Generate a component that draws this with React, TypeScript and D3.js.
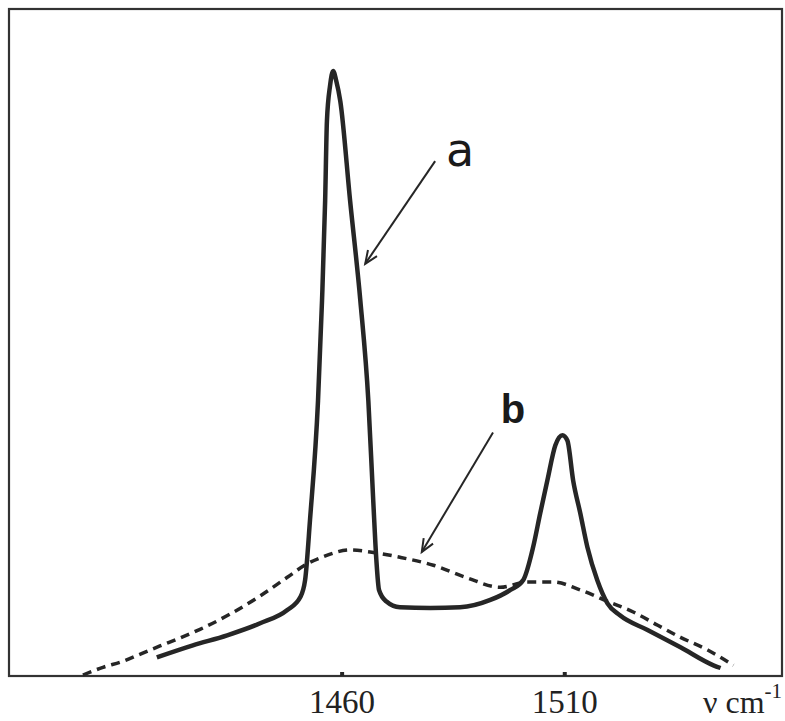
import React, { useEffect, useRef } from "react";
import * as d3 from "d3";

// Curve a (solid): wavenumber (cm-1) and intensity (arb. units, 0-100)
const aNu = [1418.5, 1426.6, 1434.3, 1441.7, 1447.8, 1450.7, 1451.8, 1452.9, 1454.7, 1455.6, 1456.3, 1456.7, 1457.4, 1458.1, 1458.8, 1459.7, 1461.9, 1464.2, 1466.0, 1467.1, 1467.8, 1468.4, 1470.0, 1473.1, 1479.9, 1486.6, 1493.4, 1497.9, 1500.8, 1503.0, 1504.6, 1506.2, 1508.0, 1509.6, 1510.7, 1512.0, 1513.6, 1515.2, 1517.4, 1519.7, 1522.5, 1528.7, 1536.1, 1543.5, 1545.1];
const aInt = [2.8, 4.6, 6.1, 7.9, 9.9, 11.8, 14.4, 23.4, 41.3, 56.3, 71.3, 83.2, 88.5, 90.7, 89.2, 86.2, 71.3, 56.3, 41.3, 26.3, 17.4, 12.9, 11.2, 10.3, 10.2, 10.3, 11.4, 12.9, 14.4, 19.3, 24.4, 29.3, 34.6, 36.1, 35.3, 29.3, 24.4, 19.3, 14.4, 10.9, 9.1, 6.9, 4.3, 1.6, 1.2];

// Curve b (dashed)
const bNu = [1401.9, 1406.4, 1410.9, 1415.2, 1419.2, 1423.7, 1428.2, 1435.0, 1441.7, 1447.8, 1452.2, 1455.2, 1461.9, 1466.4, 1473.1, 1480.6, 1488.2, 1495.6, 1501.7, 1507.5, 1513.6, 1519.7, 1525.5, 1531.0, 1536.1, 1542.2, 1548.0];
const bInt = [0.15, 1.3, 2.2, 3.4, 4.5, 5.7, 7.0, 9.3, 12.0, 14.8, 16.8, 17.7, 18.9, 18.6, 17.8, 16.6, 14.7, 13.3, 14.1, 14.1, 12.9, 11.2, 9.6, 7.6, 5.8, 3.9, 1.6];

const tickValues = [1460, 1510];
const axisUnit = "ν cm";
const axisUnitExp = "-1";

// Annotation labels with arrows
const labels = ["a", "b"];
const labelNu = [1486.6, 1498.5];
const labelInt = [78.8, 40.0];
const arrowFrom = [[1481.0, 77.2], [1494.0, 36.5]];
const arrowTo = [[1465.3, 61.8], [1478.0, 18.6]];

const W = 785;
const H = 721;

export default function App() {
  const ref = useRef<SVGSVGElement>(null);

  useEffect(() => {
    const svg = d3.select(ref.current);
    svg.selectAll("*").remove();

    const x = d3.scaleLinear().domain([1385.3, 1558.9]).range([9, 782]);
    const y = d3.scaleLinear().domain([0, 100]).range([676, 9]);

    const ink = "#262626";

    // frame
    svg
      .append("rect")
      .attr("x", x.range()[0])
      .attr("y", y.range()[1])
      .attr("width", x.range()[1] - x.range()[0])
      .attr("height", y.range()[0] - y.range()[1])
      .attr("fill", "none")
      .attr("stroke", "#333")
      .attr("stroke-width", 2.2);

    // x axis ticks
    const axis = d3
      .axisBottom(x)
      .tickValues(tickValues)
      .tickSize(-4)
      .tickPadding(14)
      .tickFormat(d3.format("d"));
    const g = svg
      .append("g")
      .attr("transform", `translate(0,${y(0)})`)
      .call(axis);
    g.select(".domain").remove();
    g.selectAll(".tick line").attr("stroke", ink).attr("stroke-width", 4);
    g.selectAll(".tick text")
      .attr("fill", "#222")
      .attr("font-family", "'Liberation Serif', 'Times New Roman', serif")
      .attr("font-size", 33)
      .attr("dy", "0.7em");

    // axis unit label
    const unit = svg
      .append("text")
      .attr("x", 703)
      .attr("y", 713)
      .attr("fill", "#222")
      .attr("font-family", "'Liberation Serif', 'Times New Roman', serif")
      .attr("font-size", 32);
    unit.append("tspan").text(axisUnit);
    unit
      .append("tspan")
      .attr("font-size", 21)
      .attr("dy", -15)
      .text(axisUnitExp);

    const aPts: [number, number][] = aNu.map((v, i) => [x(v), y(aInt[i])]);
    const bPts: [number, number][] = bNu.map((v, i) => [x(v), y(bInt[i])]);
    const gen = d3.line().curve(d3.curveMonotoneX);

    svg
      .append("path")
      .attr("d", gen(bPts))
      .attr("fill", "none")
      .attr("stroke", ink)
      .attr("stroke-width", 3.5)
      .attr("stroke-dasharray", "9,6");

    svg
      .append("path")
      .attr("d", gen(aPts))
      .attr("fill", "none")
      .attr("stroke", ink)
      .attr("stroke-width", 4.5)
      .attr("stroke-linejoin", "round");

    // arrows + labels
    labels.forEach((lab, i) => {
      const x1 = x(arrowFrom[i][0]);
      const y1 = y(arrowFrom[i][1]);
      const x2 = x(arrowTo[i][0]);
      const y2 = y(arrowTo[i][1]);
      svg
        .append("line")
        .attr("x1", x1)
        .attr("y1", y1)
        .attr("x2", x2)
        .attr("y2", y2)
        .attr("stroke", ink)
        .attr("stroke-width", 2);
      const ang = Math.atan2(y1 - y2, x1 - x2);
      const len = 14;
      const spread = 0.4;
      const p1 = [x2 + len * Math.cos(ang - spread), y2 + len * Math.sin(ang - spread)];
      const p2 = [x2 + len * Math.cos(ang + spread), y2 + len * Math.sin(ang + spread)];
      svg
        .append("path")
        .attr("d", `M${p1[0]},${p1[1]}L${x2},${y2}L${p2[0]},${p2[1]}`)
        .attr("fill", "none")
        .attr("stroke", ink)
        .attr("stroke-width", 2);
      svg
        .append("text")
        .attr("x", x(labelNu[i]))
        .attr("y", y(labelInt[i]))
        .attr("text-anchor", "middle")
        .attr("dominant-baseline", "central")
        .attr("fill", "#1a1a1a")
        .attr("font-family", i === 0 ? "'DejaVu Sans', sans-serif" : "'Liberation Sans', Arial, sans-serif")
        .attr("font-weight", i === 0 ? "normal" : "bold")
        .attr("font-size", i === 0 ? 46 : 40)
        .text(lab);
    });
  }, []);

  return (
    <svg
      ref={ref}
      width={W}
      height={H}
      style={{ position: "absolute", left: 0, top: 0, background: "#fff" }}
    />
  );
}
